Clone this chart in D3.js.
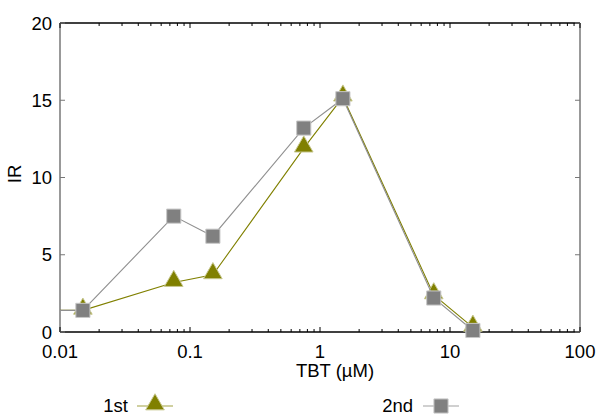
<!DOCTYPE html>
<html>
<head>
<meta charset="utf-8">
<script src="https://cdn.jsdelivr.net/npm/d3@7"></script>
<style>
  body { margin: 0; background: #fff; }
  text { font-family: "Liberation Sans", Arial, sans-serif; fill: #000; }
</style>
</head>
<body>
<svg id="chart" width="597" height="415"></svg>
<script>
// TBT concentrations (uM); first value is the control, drawn off the left edge
const conc = [0.001, 0.015, 0.075, 0.15, 0.75, 1.5, 7.5, 15];
const ir1st = [1.4, 1.4, 3.2, 3.7, 11.9, 15.2, 2.4, 0.3];
const ir2nd = [1.4, 1.4, 7.5, 6.2, 13.2, 15.1, 2.2, 0.1];
const xTicks = [0.01, 0.1, 1, 10, 100];
const yTicks = [0, 5, 10, 15, 20];

const margin = {top: 23, right: 17, bottom: 83, left: 60},
    W = 597, H = 415,
    w = W - margin.left - margin.right,
    h = H - margin.top - margin.bottom;
const fs = 18.5;

const svg = d3.select("#chart");
const g = svg.append("g").attr("transform", `translate(${margin.left},${margin.top})`);

const x = d3.scaleLog().domain([0.01, 100]).range([0, w]);
const y = d3.scaleLinear().domain([0, 20]).range([h, 0]);

// minor ticks
let minor = [];
for (let d = 0.01; d < 100; d *= 10) for (let k = 2; k <= 9; k++) minor.push(d * k);

// frame: left/right gray, top/bottom black
g.append("line").attr("x1", 0).attr("x2", 0).attr("y1", 0).attr("y2", h).attr("stroke", "#777").attr("stroke-width", 1.5);
g.append("line").attr("x1", w).attr("x2", w).attr("y1", 0).attr("y2", h).attr("stroke", "#777").attr("stroke-width", 1.5);
g.append("line").attr("x1", 0).attr("x2", w).attr("y1", 0).attr("y2", 0).attr("stroke", "#000").attr("stroke-width", 1.5);
g.append("line").attr("x1", 0).attr("x2", w).attr("y1", h).attr("y2", h).attr("stroke", "#000").attr("stroke-width", 1.5);

// x ticks (inward, mirrored at top)
g.selectAll(".xmaj").data(xTicks).join("g").each(function(d) {
  const s = d3.select(this);
  s.append("line").attr("x1", x(d)).attr("x2", x(d)).attr("y1", h).attr("y2", h - 5).attr("stroke", "#000");
  s.append("line").attr("x1", x(d)).attr("x2", x(d)).attr("y1", 0).attr("y2", 5).attr("stroke", "#000");
});
g.selectAll(".xmin").data(minor).join("g").each(function(d) {
  const s = d3.select(this);
  s.append("line").attr("x1", x(d)).attr("x2", x(d)).attr("y1", h).attr("y2", h - 3).attr("stroke", "#000");
  s.append("line").attr("x1", x(d)).attr("x2", x(d)).attr("y1", 0).attr("y2", 3).attr("stroke", "#000");
});
g.selectAll(".xlab").data(xTicks).join("text")
  .attr("x", d => x(d)).attr("y", h + 26)
  .attr("text-anchor", "middle").attr("font-size", fs)
  .text(d => d3.format("~g")(d));

// y ticks
g.selectAll(".ymaj").data(yTicks).join("g").each(function(d) {
  const s = d3.select(this);
  s.append("line").attr("x1", 0).attr("x2", 5).attr("y1", y(d)).attr("y2", y(d)).attr("stroke", "#777");
  s.append("line").attr("x1", w).attr("x2", w - 5).attr("y1", y(d)).attr("y2", y(d)).attr("stroke", "#777");
});
g.selectAll(".ylab").data(yTicks).join("text")
  .attr("x", -8).attr("y", d => y(d) + 6.5)
  .attr("text-anchor", "end").attr("font-size", fs)
  .text(d => d);

// axis titles
svg.append("text").attr("x", 335).attr("y", 377).attr("text-anchor", "middle").attr("font-size", fs).text("TBT (\u00b5M)");
svg.append("text").attr("transform", "translate(21,174) rotate(-90)").attr("text-anchor", "middle").attr("font-size", fs).text("IR");

// clip for data
svg.append("clipPath").attr("id", "clip").append("rect").attr("x", 0).attr("y", -20).attr("width", w).attr("height", h + 40);
const plot = g.append("g").attr("clip-path", "url(#clip)");

const tri = d3.symbol().type(d3.symbolTriangle).size(150);
const sq = d3.symbol().type(d3.symbolSquare).size(200);

const series = [
  {vals: ir1st, line: "#808000", fill: "#808000", edge: "#c8c890", sym: tri, dy: -1.5},
  {vals: ir2nd, line: "#909090", fill: "#808080", edge: "#c8c8c8", sym: sq, dy: 0}
];

series.forEach(s => {
  const pts = conc.map((c, i) => [c, s.vals[i]]);
  plot.append("path").datum(pts)
    .attr("fill", "none").attr("stroke", s.line).attr("stroke-width", 1.1)
    .attr("d", d3.line().x(d => x(d[0])).y(d => y(d[1])));
  plot.selectAll(null).data(pts).join("path")
    .attr("transform", d => `translate(${x(d[0])},${y(d[1]) + s.dy})`)
    .attr("d", s.sym).attr("fill", s.fill).attr("stroke", s.edge).attr("stroke-width", 1);
});

// legend
const legend = [
  {name: "1st", tx: 128, lx: 137, line: "#c0c080", fill: "#808000", edge: "#c8c890", sym: tri, dy: -1.5},
  {name: "2nd", tx: 413, lx: 423, line: "#c0c0c0", fill: "#808080", edge: "#c8c8c8", sym: sq, dy: 0}
];
legend.forEach(l => {
  svg.append("text").attr("x", l.tx).attr("y", 412).attr("text-anchor", "end").attr("font-size", fs).text(l.name);
  svg.append("line").attr("x1", l.lx).attr("x2", l.lx + 36).attr("y1", 406).attr("y2", 406).attr("stroke", l.line).attr("stroke-width", 1.5);
  svg.append("path").attr("transform", `translate(${l.lx + 18},${406 + l.dy})`)
    .attr("d", l.sym).attr("fill", l.fill).attr("stroke", l.edge);
});
</script>
</body>
</html>
